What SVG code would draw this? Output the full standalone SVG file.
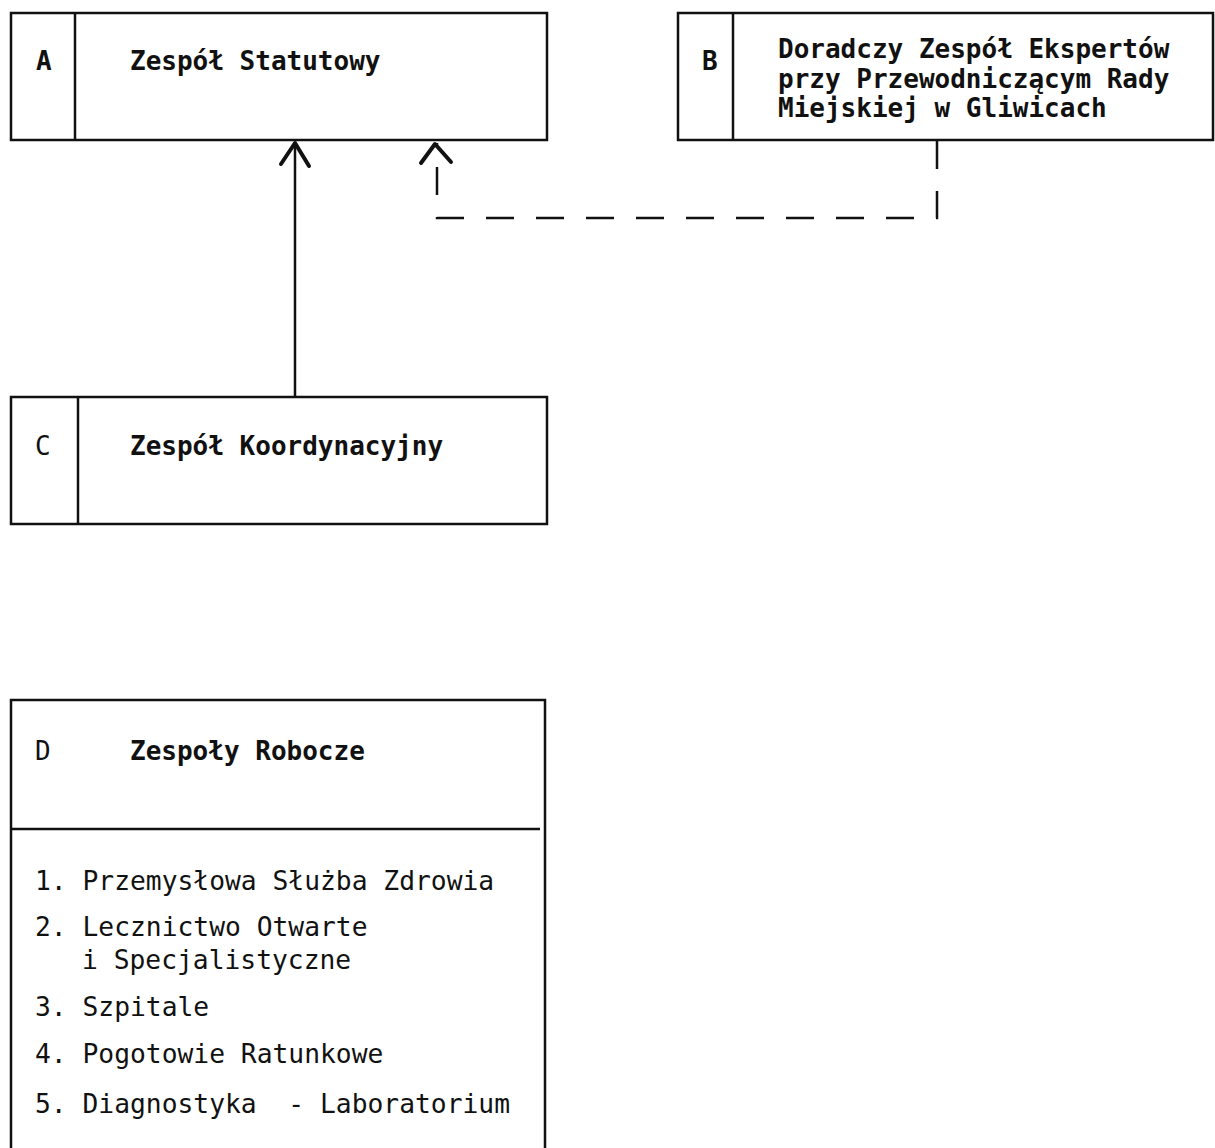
<svg xmlns="http://www.w3.org/2000/svg" width="1215" height="1148" viewBox="0 0 1215 1148">
<style>
.box{fill:none;stroke:#111;stroke-width:2.5}
.ln{stroke:#111;stroke-width:2.5;fill:none}
.h{font-family:"DejaVu Sans Mono","Liberation Mono",monospace;font-weight:bold;font-size:26px;fill:#111}
.r{font-family:"DejaVu Sans Mono","Liberation Mono",monospace;font-size:26px;fill:#111}
.li{font-family:"DejaVu Sans Mono","Liberation Mono",monospace;font-size:26.3px;fill:#111}
.arr{stroke:#111;stroke-width:4;fill:none;stroke-linecap:round;stroke-linejoin:round}
.dash{stroke:#111;stroke-width:2.5;fill:none;stroke-dasharray:28 22}
</style>
<rect width="1215" height="1148" fill="#fff"/>
<g id="nodeA">
<rect class="box" x="11" y="13" width="536" height="127"/>
<line class="ln" x1="75" y1="13" x2="75" y2="140"/>
<text class="h" x="36" y="70">A</text>
<text class="h" x="130" y="70">Zespół Statutowy</text>
</g>
<g id="nodeB">
<rect class="box" x="678" y="13" width="535" height="127"/>
<line class="ln" x1="733" y1="13" x2="733" y2="140"/>
<text class="h" x="702" y="70">B</text>
<text class="h" x="778" y="58">Doradczy Zespół Ekspertów</text>
<text class="h" x="778" y="88">przy Przewodniczącym Rady</text>
<text class="h" x="778" y="117">Miejskiej w Gliwicach</text>
</g>
<g id="nodeC">
<rect class="box" x="11" y="397" width="536" height="127"/>
<line class="ln" x1="78" y1="397" x2="78" y2="524"/>
<text class="r" x="35" y="455">C</text>
<text class="h" x="130" y="455">Zespół Koordynacyjny</text>
</g>
<g id="nodeD">
<path class="ln" d="M11 1148 V700 H545 V1148"/>
<line class="ln" x1="11" y1="829" x2="540" y2="829"/>
<text class="r" x="35" y="760">D</text>
<text class="h" x="130" y="760">Zespoły Robocze</text>
<text class="li" x="35" y="890">1. Przemysłowa Służba Zdrowia</text>
<text class="li" x="35" y="936">2. Lecznictwo Otwarte</text>
<text class="li" x="82" y="969">i Specjalistyczne</text>
<text class="li" x="35" y="1016">3. Szpitale</text>
<text class="li" x="35" y="1063">4. Pogotowie Ratunkowe</text>
<text class="li" x="35" y="1113" xml:space="preserve">5. Diagnostyka  - Laboratorium</text>
</g>
<g id="connectors">
<line class="ln" x1="295" y1="397" x2="295" y2="142"/>
<polyline class="arr" points="281,164 295,143 309,166"/>
<path class="dash" d="M937 141 V218 H437 V143"/>
<polyline class="arr" points="421,163 435,144 451,162"/>
</g>
</svg>
